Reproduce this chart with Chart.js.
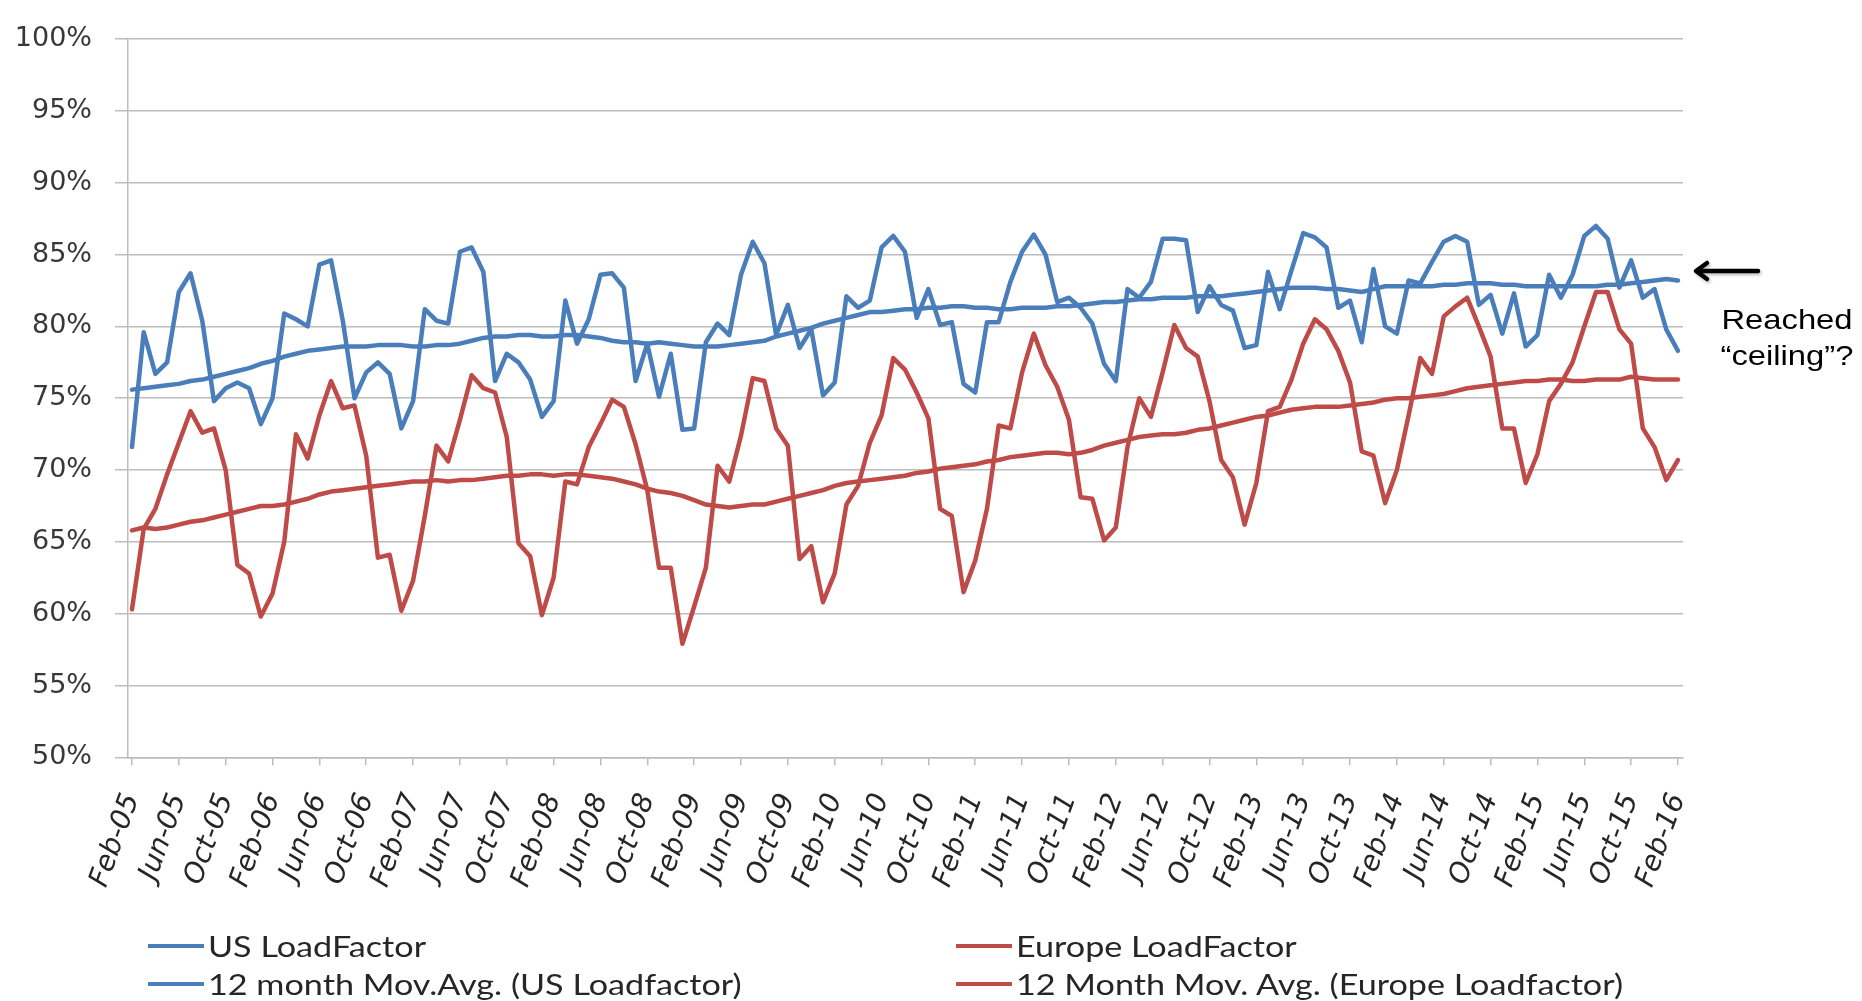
<!DOCTYPE html>
<html>
<head>
<meta charset="utf-8">
<title>US vs Europe airline load factor</title>
<script src="https://cdn.jsdelivr.net/npm/chart.js@4.4.1/dist/chart.umd.min.js"></script>
<style>
  html, body { margin: 0; padding: 0; background: #ffffff; }
  #wrap { position: relative; width: 1862px; height: 1001px; overflow: hidden; background: #ffffff; }
  #chart { position: absolute; left: 0; top: 0; }
  .legend-item { position: absolute; height: 38px; display: flex; align-items: center; white-space: nowrap; }
  .legend-line { width: 56px; height: 4.5px; margin-right: 4px; flex: none; }
  .legend-text { font-family: Lato, "Open Sans", sans-serif; font-size: 28px; color: #262626;
                 transform: scaleX(1.22); transform-origin: left center; }
  #note { position: absolute; left: 1687px; top: 302px; width: 200px; text-align: center;
          font-family: "Liberation Sans", Arial, sans-serif; font-size: 28px; line-height: 36px; color: #000;
          transform: scaleX(1.17); transform-origin: center; }
  #arrow { position: absolute; left: 0; top: 0; }
</style>
</head>
<body>
<div id="wrap">
  <canvas id="chart" width="1862" height="1001"></canvas>
  <svg id="arrow" width="1862" height="1001">
    <defs>
      <filter id="soft" x="-20%" y="-50%" width="140%" height="200%">
        <feDropShadow dx="1.5" dy="2" stdDeviation="1.5" flood-color="#000" flood-opacity="0.25"/>
      </filter>
    </defs>
    <g filter="url(#soft)" stroke="#000" stroke-width="4.5" fill="none" stroke-linecap="round" stroke-linejoin="round">
      <line x1="1697" y1="271" x2="1758" y2="271"/>
      <polyline points="1707,263 1696,271 1707,279"/>
    </g>
  </svg>
  <div id="note">Reached<br>“ceiling”?</div>
  <div id="legend"></div>
</div>
<script>
// Monthly passenger load factor (%), Feb 2005 – Feb 2016
const usLoadFactor = [
  71.6, 79.6, 76.7, 77.5, 82.4, 83.7, 80.4, 74.8, 75.7, 76.1, 75.7, 73.2,
  75.0, 80.9, 80.5, 80.0, 84.3, 84.6, 80.4, 75.0, 76.8, 77.5, 76.7, 72.9,
  74.8, 81.2, 80.4, 80.2, 85.2, 85.5, 83.8, 76.2, 78.1, 77.5, 76.3, 73.7,
  74.8, 81.8, 78.8, 80.5, 83.6, 83.7, 82.7, 76.2, 78.8, 75.1, 78.1, 72.8,
  72.9, 78.9, 80.2, 79.4, 83.6, 85.9, 84.4, 79.4, 81.5, 78.5, 79.8, 75.2,
  76.1, 82.1, 81.3, 81.8, 85.5, 86.3, 85.2, 80.6, 82.6, 80.1, 80.3, 76.0,
  75.4, 80.3, 80.3, 83.1, 85.2, 86.4, 85.0, 81.7, 82.0, 81.3, 80.2, 77.4,
  76.2, 82.6, 82.0, 83.1, 86.1, 86.1, 86.0, 81.0, 82.8, 81.5, 81.1, 78.5,
  78.7, 83.8, 81.2, 83.9, 86.5, 86.2, 85.5, 81.3, 81.8, 78.9, 84.0, 80.0,
  79.5, 83.2, 83.0, 84.5, 85.9, 86.3, 85.9, 81.5, 82.2, 79.5, 82.3, 78.6,
  79.4, 83.6, 82.0, 83.6, 86.3, 87.0, 86.1, 82.7, 84.6, 82.0, 82.6, 79.8,
  78.3
];
const europeLoadFactor = [
  60.3, 65.9, 67.3, 69.7, 71.9, 74.1, 72.6, 72.9, 70.0, 63.4, 62.8, 59.8,
  61.4, 65.0, 72.5, 70.8, 73.8, 76.2, 74.3, 74.5, 71.0, 63.9, 64.1, 60.2,
  62.3, 66.8, 71.7, 70.6, 73.5, 76.6, 75.7, 75.4, 72.3, 64.9, 64.0, 59.9,
  62.5, 69.2, 69.0, 71.6, 73.2, 74.9, 74.4, 71.8, 68.6, 63.2, 63.2, 57.9,
  60.5, 63.2, 70.3, 69.2, 72.4, 76.4, 76.2, 72.9, 71.7, 63.8, 64.7, 60.8,
  62.8, 67.6, 68.9, 71.9, 73.8, 77.8, 77.0, 75.4, 73.6, 67.3, 66.8, 61.5,
  63.7, 67.3, 73.1, 72.9, 76.8, 79.5, 77.3, 75.8, 73.5, 68.1, 68.0, 65.1,
  66.0, 71.6, 75.0, 73.7, 76.8, 80.1, 78.5, 77.9, 74.8, 70.7, 69.5, 66.2,
  69.1, 74.1, 74.4, 76.3, 78.8, 80.5, 79.8, 78.3, 76.1, 71.3, 71.0, 67.7,
  70.0, 73.8, 77.8, 76.7, 80.7, 81.4, 82.0, 80.0, 77.9, 72.9, 72.9, 69.1,
  71.1, 74.8, 76.0, 77.5, 80.0, 82.4, 82.4, 79.8, 78.8, 72.9, 71.6, 69.3,
  70.7
];
// 12-month moving averages
const usMovAvg = [
  75.6, 75.7, 75.8, 75.9, 76.0, 76.2, 76.3, 76.5, 76.7, 76.9, 77.1, 77.4,
  77.6, 77.9, 78.1, 78.3, 78.4, 78.5, 78.6, 78.6, 78.6, 78.7, 78.7, 78.7,
  78.6, 78.6, 78.7, 78.7, 78.8, 79.0, 79.2, 79.3, 79.3, 79.4, 79.4, 79.3,
  79.3, 79.4, 79.4, 79.3, 79.2, 79.0, 78.9, 78.9, 78.8, 78.9, 78.8, 78.7,
  78.6, 78.6, 78.6, 78.7, 78.8, 78.9, 79.0, 79.3, 79.5, 79.7, 79.9, 80.2,
  80.4, 80.6, 80.8, 81.0, 81.0, 81.1, 81.2, 81.2, 81.3, 81.3, 81.4, 81.4,
  81.3, 81.3, 81.2, 81.2, 81.3, 81.3, 81.3, 81.4, 81.4, 81.5, 81.6, 81.7,
  81.7, 81.8, 81.9, 81.9, 82.0, 82.0, 82.0, 82.1, 82.1, 82.1, 82.2, 82.3,
  82.4, 82.5, 82.6, 82.7, 82.7, 82.7, 82.6, 82.6, 82.5, 82.4, 82.6, 82.8,
  82.8, 82.8, 82.8, 82.8, 82.9, 82.9, 83.0, 83.0, 83.0, 82.9, 82.9, 82.8,
  82.8, 82.8, 82.8, 82.8, 82.8, 82.8, 82.9, 82.9, 83.0, 83.1, 83.2, 83.3,
  83.2
];
const europeMovAvg = [
  65.8, 66.0, 65.9, 66.0, 66.2, 66.4, 66.5, 66.7, 66.9, 67.1, 67.3, 67.5,
  67.5, 67.6, 67.8, 68.0, 68.3, 68.5, 68.6, 68.7, 68.8, 68.9, 69.0, 69.1,
  69.2, 69.2, 69.3, 69.2, 69.3, 69.3, 69.4, 69.5, 69.6, 69.6, 69.7, 69.7,
  69.6, 69.7, 69.7, 69.6, 69.5, 69.4, 69.2, 69.0, 68.7, 68.5, 68.4, 68.2,
  67.9, 67.6, 67.5, 67.4, 67.5, 67.6, 67.6, 67.8, 68.0, 68.2, 68.4, 68.6,
  68.9, 69.1, 69.2, 69.3, 69.4, 69.5, 69.6, 69.8, 69.9, 70.1, 70.2, 70.3,
  70.4, 70.6, 70.7, 70.9, 71.0, 71.1, 71.2, 71.2, 71.1, 71.2, 71.4, 71.7,
  71.9, 72.1, 72.3, 72.4, 72.5, 72.5, 72.6, 72.8, 72.9, 73.1, 73.3, 73.5,
  73.7, 73.8, 74.0, 74.2, 74.3, 74.4, 74.4, 74.4, 74.5, 74.6, 74.7, 74.9,
  75.0, 75.0, 75.1, 75.2, 75.3, 75.5, 75.7, 75.8, 75.9, 76.0, 76.1, 76.2,
  76.2, 76.3, 76.3, 76.2, 76.2, 76.3, 76.3, 76.3, 76.5, 76.4, 76.3, 76.3,
  76.3
];
// Axis labels, one every four months starting Feb-05
const tickLabels = [
  'Feb-05', 'Jun-05', 'Oct-05', 'Feb-06', 'Jun-06', 'Oct-06', 'Feb-07', 'Jun-07', 'Oct-07',
  'Feb-08', 'Jun-08', 'Oct-08', 'Feb-09', 'Jun-09', 'Oct-09', 'Feb-10', 'Jun-10', 'Oct-10',
  'Feb-11', 'Jun-11', 'Oct-11', 'Feb-12', 'Jun-12', 'Oct-12', 'Feb-13', 'Jun-13', 'Oct-13',
  'Feb-14', 'Jun-14', 'Oct-14', 'Feb-15', 'Jun-15', 'Oct-15', 'Feb-16'
];
const seriesNames = [
  'US LoadFactor',
  'Europe LoadFactor',
  '12 month Mov.Avg. (US Loadfactor)',
  '12 Month Mov. Avg. (Europe Loadfactor)'
];

const MONTHS_PER_TICK = 4;
const BLUE = '#4a7ebb';
const RED = '#be4b48';
const GRID = '#bcbcbc';

const toPoints = arr => arr.map((v, i) => ({ x: i, y: v }));
const lineStyle = color => ({
  borderColor: color, backgroundColor: color, borderWidth: 4.5,
  pointRadius: 0, tension: 0, fill: false,
  borderJoinStyle: 'round', borderCapStyle: 'round'
});

const chart = new Chart(document.getElementById('chart'), {
  type: 'line',
  data: {
    datasets: [
      { label: seriesNames[0], data: toPoints(usLoadFactor), ...lineStyle(BLUE) },
      { label: seriesNames[1], data: toPoints(europeLoadFactor), ...lineStyle(RED) },
      { label: seriesNames[2], data: toPoints(usMovAvg), ...lineStyle(BLUE) },
      { label: seriesNames[3], data: toPoints(europeMovAvg), ...lineStyle(RED) }
    ]
  },
  options: {
    responsive: false,
    animation: false,
    devicePixelRatio: 1,
    layout: { padding: { top: 21.5, right: 179, left: 0, bottom: 0 } },
    plugins: { legend: { display: false }, tooltip: { enabled: false } },
    scales: {
      x: {
        type: 'linear',
        min: -0.34,
        max: 132.43,
        afterBuildTicks: s => { s.ticks = tickLabels.map((_, k) => ({ value: k * MONTHS_PER_TICK })); },
        afterFit: s => { s.height = 1001 - 757.3; },
        ticks: {
          autoSkip: false, minRotation: 70, maxRotation: 70, padding: 24,
          callback: (v, idx) => tickLabels[idx],
          color: '#262626',
          font: { family: 'DejaVu Sans', size: 28, style: 'italic' }
        },
        grid: { drawOnChartArea: false, drawTicks: true, tickLength: 8, color: GRID, lineWidth: 1.5 },
        border: { display: true, color: GRID, width: 1.5 }
      },
      y: {
        min: 50,
        max: 100,
        afterFit: s => { s.width = 128; },
        ticks: {
          stepSize: 5, padding: 23,
          callback: v => v + '%',
          color: '#383838',
          font: { family: 'DejaVu Sans', size: 27 }
        },
        grid: { color: GRID, lineWidth: 1.5, drawTicks: true, tickLength: 13 },
        border: { display: true, color: GRID, width: 1.5 }
      }
    }
  }
});

// Two-column legend built from the chart's datasets
const legendSlots = [
  { left: 148, top: 927 }, { left: 956, top: 927 },
  { left: 148, top: 965 }, { left: 956, top: 965 }
];
const legend = document.getElementById('legend');
chart.data.datasets.forEach((ds, i) => {
  const item = document.createElement('div');
  item.className = 'legend-item';
  item.style.left = legendSlots[i].left + 'px';
  item.style.top = legendSlots[i].top + 'px';
  const sw = document.createElement('span');
  sw.className = 'legend-line';
  sw.style.background = ds.borderColor;
  const tx = document.createElement('span');
  tx.className = 'legend-text';
  tx.textContent = ds.label;
  item.appendChild(sw);
  item.appendChild(tx);
  legend.appendChild(item);
});
</script>
</body>
</html>
